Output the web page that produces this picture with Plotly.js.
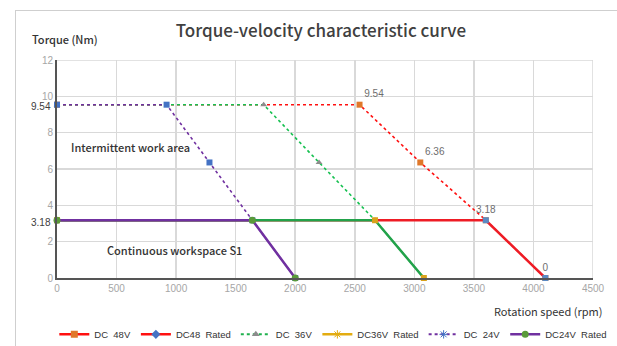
<!DOCTYPE html>
<html>
<head>
<meta charset="utf-8">
<script src="https://cdn.plot.ly/plotly-3.0.1.min.js"></script>
<style>
html,body{margin:0;padding:0;background:#fff;}
#wrap{position:relative;width:617px;height:346px;overflow:hidden;}
#frame{position:absolute;left:15px;top:10px;width:700px;height:400px;border-left:1.5px solid #cfcfcf;border-top:1.5px solid #cfcfcf;}
#chart{position:absolute;left:0;top:0;width:617px;height:346px;}
</style>
</head>
<body>
<div id="wrap"><div id="frame"></div><div id="chart"></div></div>
<script>
// Data
const dc48Speed = [0, 2540, 3050, 3600, 4100];
const dc48Torque = [9.54, 9.54, 6.36, 3.18, 0];
const dc48Labels = ['', '9.54', '6.36', '3.18', '0'];
const dc48RatedSpeed = [0, 3600, 4100];
const dc48RatedTorque = [3.18, 3.18, 0];
const dc36Speed = [0, 1735, 2200, 2670, 3080];
const dc36Torque = [9.54, 9.54, 6.36, 3.18, 0];
const dc36RatedSpeed = [0, 2670, 3080];
const dc36RatedTorque = [3.18, 3.18, 0];
const dc24Speed = [0, 920, 1280, 1640, 2000];
const dc24Torque = [9.54, 9.54, 6.36, 3.18, 0];
const dc24RatedSpeed = [0, 1640, 2000];
const dc24RatedTorque = [3.18, 3.18, 0];
const seriesNames = ['DC  48V', 'DC48  Rated', 'DC  36V', 'DC36V  Rated', 'DC  24V', 'DC24V  Rated'];
const xTicks = [0, 500, 1000, 1500, 2000, 2500, 3000, 3500, 4000, 4500];
const yTicks = [0, 2, 4, 6, 8, 10, 12];
const markedTorques = [9.54, 3.18];

const RED = '#ff1010', GREEN = '#1fb14e', PURPLE = '#7030a0', GOLD = '#e3ac10';
const ORANGE = '#e0782a', BLUE = '#4472c4', GRAY = '#8c8c8c', MGREEN = '#5a9a3a';

const traces = [
  {x: dc48Speed, y: dc48Torque, mode: 'lines+markers+text', text: dc48Labels,
   textposition: ['top right','top right','top right','top center','top center'],
   textfont: {family: 'Liberation Sans, Arial', size: 10, color: '#6e6e6e'},
   line: {color: RED, width: 1.6, dash: 'dot'}, marker: {symbol: 'square', size: 6, color: ORANGE},
   showlegend: false, cliponaxis: false},
  {x: dc36Speed, y: dc36Torque, mode: 'lines+markers',
   line: {color: '#16c050', width: 1.6, dash: 'dot'}, marker: {symbol: 'triangle-up', size: 6, color: GRAY},
   showlegend: false, cliponaxis: false},
  {x: dc24Speed, y: dc24Torque, mode: 'lines+markers',
   line: {color: PURPLE, width: 1.6, dash: 'dot'}, marker: {symbol: 'square', size: 6, color: BLUE},
   showlegend: false, cliponaxis: false},
  {x: dc48RatedSpeed, y: dc48RatedTorque, mode: 'lines+markers',
   line: {color: '#ee1c25', width: 2.5}, marker: {symbol: 'square', size: 6, color: '#5b8ac4'},
   showlegend: false, cliponaxis: false},
  {x: dc36RatedSpeed, y: dc36RatedTorque, mode: 'lines+markers',
   line: {color: '#22a24a', width: 2.5}, marker: {symbol: 'square', size: 6, color: '#d9a21a'},
   showlegend: false, cliponaxis: false},
  {x: dc24RatedSpeed, y: dc24RatedTorque, mode: 'lines+markers',
   line: {color: PURPLE, width: 2.5}, marker: {symbol: 'circle', size: 7, color: MGREEN},
   showlegend: false, cliponaxis: false},
  // legend entries
  {x: [null], y: [null], name: seriesNames[0], mode: 'lines+markers', line: {color: RED, width: 2.5}, marker: {symbol: 'square', size: 7, color: ORANGE}},
  {x: [null], y: [null], name: seriesNames[1], mode: 'lines+markers', line: {color: RED, width: 2.5}, marker: {symbol: 'diamond', size: 7, color: BLUE}},
  {x: [null], y: [null], name: seriesNames[2], mode: 'lines+markers', line: {color: GREEN, width: 2, dash: 'dot'}, marker: {symbol: 'triangle-up', size: 7, color: GRAY}},
  {x: [null], y: [null], name: seriesNames[3], mode: 'lines+markers', line: {color: GOLD, width: 2.5}, marker: {symbol: 'asterisk-open', size: 7, color: GOLD}},
  {x: [null], y: [null], name: seriesNames[4], mode: 'lines+markers', line: {color: PURPLE, width: 2, dash: 'dot'}, marker: {symbol: 'asterisk-open', size: 7, color: BLUE}},
  {x: [null], y: [null], name: seriesNames[5], mode: 'lines+markers', line: {color: PURPLE, width: 2.5}, marker: {symbol: 'circle', size: 7, color: MGREEN}}
];

const tickFont = {family: 'Liberation Sans, Arial', size: 10, color: '#a6a6a6'};
const cjk = 'Noto Sans CJK SC, Noto Sans';

const annotations = [
  {xref: 'paper', yref: 'paper', x: -0.05, y: 1.095, xanchor: 'left', yanchor: 'middle',
   text: 'Torque (Nm)', showarrow: false, font: {family: cjk, size: 11, color: '#333', weight: 500}},
  {xref: 'paper', yref: 'paper', x: 1.02, y: -0.152, xanchor: 'right', yanchor: 'middle',
   text: 'Rotation speed (rpm)', showarrow: false, font: {family: cjk, size: 11, color: '#333'}},
  {xref: 'x', yref: 'y', x: 100, y: 7.2, xanchor: 'left', yanchor: 'middle',
   text: 'Intermittent work area', showarrow: false, font: {family: cjk, size: 11, color: '#333', weight: 500}},
  {xref: 'x', yref: 'y', x: 400, y: 1.55, xanchor: 'left', yanchor: 'middle',
   text: 'Continuous workspace S1', showarrow: false, font: {family: cjk, size: 11, color: '#333', weight: 500}},
  // axis arrows
  {xref: 'x', yref: 'y', x: 4530, y: 0, ax: -10, ay: 0, showarrow: true,
   arrowhead: 2, arrowsize: 1, arrowwidth: 1.5, arrowcolor: '#555', text: ''},
  {xref: 'x', yref: 'y', x: 0, y: 12.2, ax: 0, ay: 10, showarrow: true,
   arrowhead: 2, arrowsize: 1, arrowwidth: 1.5, arrowcolor: '#555', text: ''}
];
markedTorques.forEach(v => annotations.push({xref: 'paper', yref: 'y', x: 0, y: v, xanchor: 'right', yanchor: 'middle',
  xshift: -4, yshift: -2, text: String(v), showarrow: false, font: {family: 'Liberation Sans, Arial', size: 10, color: '#404040'}}));

const layout = {
  width: 617, height: 346,
  paper_bgcolor: 'rgba(0,0,0,0)', plot_bgcolor: 'rgba(0,0,0,0)',
  margin: {l: 57, r: 24, t: 60, b: 68, autoexpand: false},
  title: {text: 'Torque-velocity characteristic curve', x: 0.52, xanchor: 'center', y: 0.91, yanchor: 'middle',
          font: {family: cjk, size: 17, color: '#404040', weight: 500}},
  xaxis: {range: [0, 4500], tickvals: xTicks, ticktext: xTicks.map(String), tickfont: tickFont,
          showgrid: true, gridcolor: '#d9d9d9', gridwidth: 1.5, zeroline: false,
          showline: true, linecolor: '#555', linewidth: 2, ticks: '', fixedrange: true, automargin: false},
  yaxis: {range: [0, 12], tickvals: yTicks, ticktext: yTicks.map(String), tickfont: tickFont,
          showgrid: true, gridcolor: '#d9d9d9', gridwidth: 1.5, zeroline: false,
          showline: true, linecolor: '#555', linewidth: 2, ticks: '', fixedrange: true, automargin: false},
  shapes: [
    {type: 'line', xref: 'x', yref: 'y', x0: 0, x1: 4500, y0: 12, y1: 12, line: {color: '#d9d9d9', width: 1.5}, layer: 'below'},
    {type: 'line', xref: 'x', yref: 'y', x0: 4500, x1: 4500, y0: 0, y1: 12, line: {color: '#d9d9d9', width: 1.5}, layer: 'below'}
  ],
  legend: {orientation: 'h', x: -0.005, xanchor: 'left', y: -0.192, yanchor: 'top',
           font: {family: 'Liberation Sans, Arial', size: 9.5, color: '#333'},
           itemwidth: 30, tracegroupgap: 0, bgcolor: 'rgba(0,0,0,0)'},
  annotations: annotations,
  showlegend: true
};

Plotly.newPlot('chart', traces, layout, {displayModeBar: false, staticPlot: true});
</script>
</body>
</html>
